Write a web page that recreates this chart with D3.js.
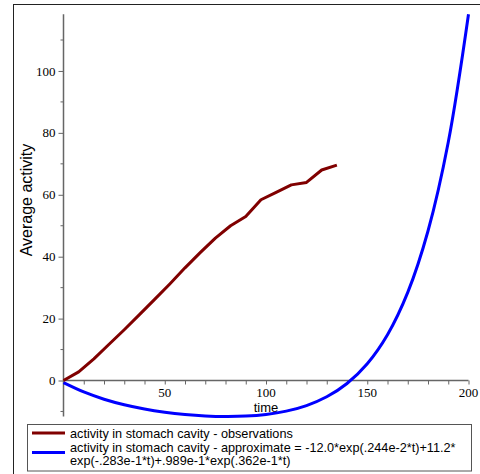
<!DOCTYPE html>
<html>
<head>
<meta charset="utf-8">
<script src="https://cdn.jsdelivr.net/npm/d3@7"></script>
<style>
  html, body { margin: 0; padding: 0; background: #fff; }
  svg { display: block; }
</style>
</head>
<body>
<script>
// ---- data ----
const obsTime = [0, 7.5, 15, 22.5, 30, 37.5, 45, 52.5, 60, 67.5, 75, 82.5, 90, 97.5, 105, 112.5, 120, 127.5, 135];
const obsActivity = [0, 2.8, 7.0, 11.7, 16.4, 21.3, 26.2, 31.2, 36.4, 41.3, 46.0, 50.0, 53.0, 58.4, 60.8, 63.2, 64.0, 68.0, 69.6];
const fitTime = [0, 10, 20, 30, 40, 50, 60, 70, 80, 90, 100, 110, 120, 130, 140, 150, 160, 170, 180, 190, 200];
const fitActivity = [-0.70, -3.71, -6.04, -7.83, -9.20, -10.23, -10.97, -11.44, -11.63, -11.50, -10.96, -9.89, -8.09, -5.26, -0.96, 5.42, 14.80, 28.46, 48.30, 76.97, 118.34];
const xMajorTicks = [50, 100, 150, 200];
const yMajorTicks = [0, 20, 40, 60, 80, 100];
const legendLabels = [
  ["activity in stomach cavity - observations"],
  ["activity in stomach cavity - approximate = -12.0*exp(.244e-2*t)+11.2*",
   "exp(-.283e-1*t)+.989e-1*exp(.362e-1*t)"]
];
const xTitle = "time";
const yTitle = "Average activity";

// ---- drawing ----
const W = 480, H = 474;
const svg = d3.select("body").append("svg").attr("width", W).attr("height", H);

// outer frame
svg.append("rect").attr("x", 13.5).attr("y", 4.5).attr("width", 500).attr("height", 500)
  .attr("fill", "none").attr("stroke", "#222").attr("stroke-width", 1);

const x = d3.scaleLinear().domain([0, 200]).range([63.5, 468.5]);
const y = d3.scaleLinear().domain([-11.63, 118.34]).range([416.5, 14.2]);

const axisColor = "#666";
const tickFont = "'Liberation Serif', 'Times New Roman', serif";
const sansFont = "'Liberation Sans', Arial, sans-serif";

// x axis
const gx = svg.append("g").attr("transform", `translate(0,${y(0)})`);
gx.call(d3.axisBottom(x).tickValues(d3.range(10, 201, 10)).tickSize(4).tickFormat(""));
gx.call(g => g.select(".domain").attr("d", `M${x(0)},0H${x(200)}`));
gx.selectAll("line").attr("stroke", axisColor);
gx.select(".domain").attr("stroke", axisColor).attr("stroke-width", 1.5);
gx.selectAll(".lbl").data(xMajorTicks).enter().append("text")
  .attr("x", d => x(d)).attr("y", 16.5)
  .attr("text-anchor", "middle")
  .attr("font-family", tickFont).attr("font-size", 13).attr("fill", "#000")
  .text(d => d);

// y axis
const gy = svg.append("g").attr("transform", `translate(${x(0)},0)`);
const yMinor = [-10, 10, 30, 50, 70, 90, 110];
gy.call(d3.axisLeft(y).tickValues(yMajorTicks).tickSize(5).tickFormat(""));
gy.select(".domain").attr("d", `M0,${y(-11.63)}V${y(118.34)}`)
  .attr("stroke", axisColor).attr("stroke-width", 1.5);
gy.selectAll("line").attr("stroke", axisColor);
gy.selectAll(".minor").data(yMinor).enter().append("line")
  .attr("x1", -3).attr("x2", 0).attr("y1", d => y(d)).attr("y2", d => y(d))
  .attr("stroke", axisColor);
gy.selectAll(".lbl").data(yMajorTicks).enter().append("text")
  .attr("x", -8).attr("y", d => y(d)).attr("dy", "0.35em")
  .attr("text-anchor", "end")
  .attr("font-family", tickFont).attr("font-size", 13).attr("fill", "#000")
  .text(d => d);

// axis titles
svg.append("text").attr("x", x(100)).attr("y", 412)
  .attr("text-anchor", "middle").attr("font-family", sansFont).attr("font-size", 13)
  .text(xTitle);
svg.append("text").attr("transform", "translate(32,200) rotate(-90)")
  .attr("text-anchor", "middle").attr("font-family", sansFont).attr("font-size", 16)
  .text(yTitle);

// curves
const obs = obsTime.map((t, i) => [t, obsActivity[i]]);
const fit = fitTime.map((t, i) => [t, fitActivity[i]]);
const line = d3.line().x(d => x(d[0])).y(d => y(d[1]));
const smooth = d3.line().x(d => x(d[0])).y(d => y(d[1])).curve(d3.curveCatmullRom.alpha(0.5));

svg.append("path").attr("d", smooth(fit)).attr("fill", "none")
  .attr("stroke", "#0000ff").attr("stroke-width", 3);
svg.append("path").attr("d", line(obs)).attr("fill", "none")
  .attr("stroke", "#800000").attr("stroke-width", 3).attr("stroke-linejoin", "round");

// legend
const lg = svg.append("g");
lg.append("rect").attr("x", 27.5).attr("y", 424.5).attr("width", 444).attr("height", 46.5)
  .attr("fill", "#fff").attr("stroke", "#555").attr("stroke-width", 1);
const legendColors = ["#800000", "#0000ff"];
const legendLineY = [433, 452.5];
const legendTextY = [[437.5], [451.5, 465]];
legendLabels.forEach((rows, i) => {
  lg.append("line").attr("x1", 32).attr("x2", 65)
    .attr("y1", legendLineY[i]).attr("y2", legendLineY[i])
    .attr("stroke", legendColors[i]).attr("stroke-width", 3);
  rows.forEach((r, j) => {
    lg.append("text").attr("x", 70).attr("y", legendTextY[i][j])
      .attr("font-family", sansFont).attr("font-size", 12.7).attr("fill", "#000")
      .text(r);
  });
});
</script>
</body>
</html>
